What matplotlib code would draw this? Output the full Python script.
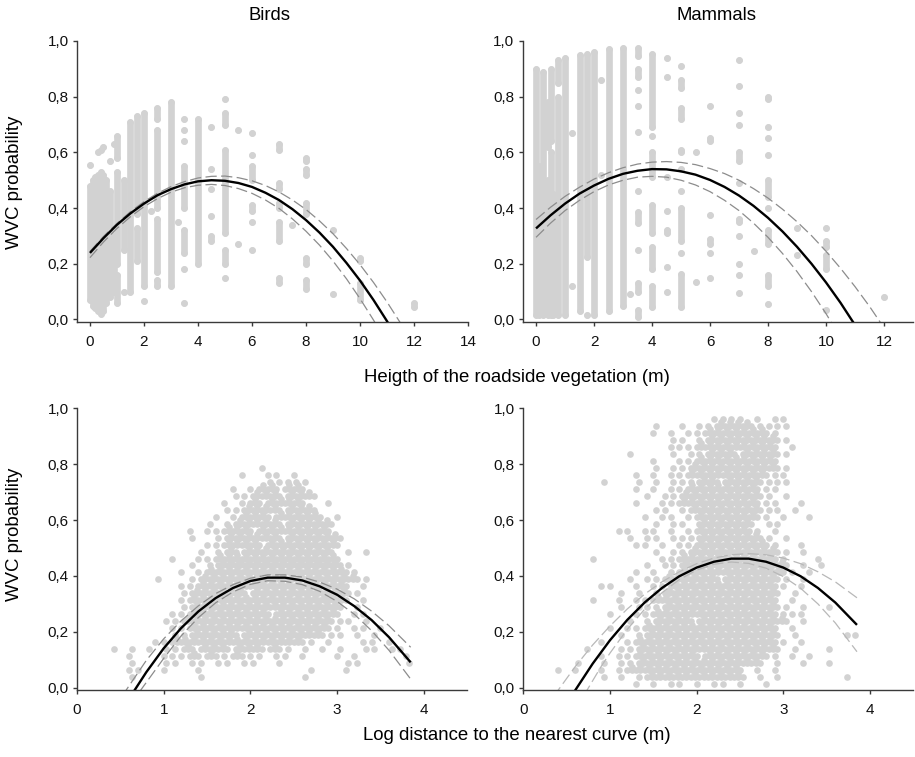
import matplotlib
matplotlib.use("Agg")
import matplotlib.pyplot as plt
from matplotlib.ticker import FuncFormatter

plt.rcParams['font.family'] = ['Liberation Sans', 'DejaVu Sans']

# ---- top row: height of roadside vegetation, columns of dots (x, runs of y)
birds_veg_x = [0, 0.1, 0.2, 0.3, 0.4, 0.5, 0.6, 0.75, 0.9, 1.0, 1.25, 1.5, 1.75, 2.0, 2.25,
               2.5, 3.0, 3.25, 3.5, 4.0, 4.5, 5.0, 5.5, 6.0, 7.0, 7.5, 8.0, 9.0, 10.0, 12.0]
birds_veg_runs = [
    [(0.07, 0.48), (0.555, 0.555)],
    [(0.05, 0.50)],
    [(0.04, 0.51)],
    [(0.03, 0.52), (0.60, 0.60)],
    [(0.02, 0.53), (0.61, 0.61)],
    [(0.03, 0.52), (0.62, 0.62)],
    [(0.06, 0.50)],
    [(0.08, 0.46), (0.57, 0.57)],
    [(0.10, 0.30), (0.63, 0.63)],
    [(0.06, 0.16), (0.20, 0.53), (0.58, 0.66)],
    [(0.10, 0.10), (0.25, 0.50)],
    [(0.10, 0.71)],
    [(0.21, 0.33), (0.38, 0.73)],
    [(0.065, 0.065), (0.12, 0.74)],
    [(0.39, 0.39)],
    [(0.12, 0.14), (0.17, 0.36), (0.40, 0.68), (0.72, 0.76)],
    [(0.12, 0.78)],
    [(0.35, 0.35)],
    [(0.06, 0.06), (0.18, 0.18), (0.24, 0.32), (0.40, 0.55), (0.64, 0.64), (0.68, 0.68), (0.72, 0.72)],
    [(0.20, 0.72)],
    [(0.28, 0.30), (0.37, 0.37), (0.47, 0.47), (0.54, 0.54), (0.69, 0.69)],
    [(0.15, 0.15), (0.20, 0.25), (0.31, 0.61), (0.70, 0.74), (0.79, 0.79)],
    [(0.27, 0.27), (0.68, 0.68)],
    [(0.25, 0.25), (0.35, 0.35), (0.39, 0.41), (0.50, 0.55), (0.59, 0.59), (0.67, 0.67)],
    [(0.13, 0.15), (0.28, 0.35), (0.40, 0.42), (0.47, 0.49), (0.61, 0.63)],
    [(0.34, 0.34)],
    [(0.11, 0.14), (0.20, 0.22), (0.38, 0.42), (0.52, 0.54), (0.57, 0.58)],
    [(0.09, 0.09), (0.32, 0.32)],
    [(0.07, 0.13), (0.21, 0.22)],
    [(0.045, 0.06)],
]

mammals_veg_x = [0, 0.1, 0.25, 0.4, 0.5, 0.6, 0.75, 1.0, 1.25, 1.5, 1.75, 2.0, 2.25, 2.5, 3.0, 3.25, 3.5,
                 4.0, 4.5, 5.0, 5.5, 6.0, 7.0, 7.5, 8.0, 9.0, 10.0, 12.0]
mammals_veg_runs = [
    [(0.015, 0.90)],
    [(0.015, 0.55)],
    [(0.015, 0.89)],
    [(0.015, 0.50), (0.62, 0.78)],
    [(0.015, 0.60), (0.64, 0.90)],
    [(0.015, 0.45)],
    [(0.015, 0.80), (0.85, 0.93)],
    [(0.015, 0.94)],
    [(0.12, 0.12), (0.67, 0.67)],
    [(0.03, 0.95)],
    [(0.015, 0.015), (0.225, 0.955)],
    [(0.015, 0.96)],
    [(0.52, 0.52), (0.86, 0.86)],
    [(0.03, 0.97)],
    [(0.05, 0.975)],
    [(0.09, 0.09)],
    [(0.01, 0.035), (0.10, 0.13), (0.25, 0.25), (0.345, 0.385), (0.46, 0.46), (0.675, 0.675),
     (0.765, 0.765), (0.825, 0.825), (0.87, 0.90), (0.945, 0.975)],
    [(0.045, 0.12), (0.18, 0.26), (0.31, 0.41), (0.51, 0.60), (0.66, 0.66), (0.69, 0.955)],
    [(0.10, 0.10), (0.19, 0.19), (0.31, 0.32), (0.39, 0.39), (0.51, 0.51), (0.87, 0.87), (0.94, 0.94)],
    [(0.045, 0.165), (0.24, 0.24), (0.28, 0.40), (0.46, 0.46), (0.54, 0.54), (0.60, 0.61),
     (0.72, 0.76), (0.83, 0.86), (0.91, 0.91)],
    [(0.135, 0.135), (0.60, 0.60)],
    [(0.15, 0.15), (0.24, 0.24), (0.27, 0.29), (0.375, 0.375), (0.64, 0.65), (0.765, 0.765)],
    [(0.095, 0.095), (0.16, 0.16), (0.20, 0.20), (0.30, 0.30), (0.35, 0.36), (0.49, 0.49),
     (0.57, 0.60), (0.70, 0.70), (0.74, 0.74), (0.84, 0.84), (0.93, 0.93)],
    [(0.245, 0.245)],
    [(0.055, 0.055), (0.12, 0.16), (0.27, 0.32), (0.40, 0.40), (0.44, 0.50), (0.59, 0.59),
     (0.65, 0.65), (0.69, 0.69), (0.79, 0.80)],
    [(0.23, 0.23), (0.33, 0.33)],
    [(0.035, 0.035), (0.18, 0.23), (0.26, 0.28), (0.33, 0.33)],
    [(0.08, 0.08)],
]

# fitted curves and confidence bands
birds_veg_fit_x = [0, 0.5, 1, 1.5, 2, 2.5, 3, 3.5, 4, 4.5, 5, 5.5, 6, 6.5, 7, 7.5, 8, 8.5, 9, 9.5, 10, 10.5, 11, 11.2]
birds_veg_fit_y = [0.239, 0.292, 0.340, 0.381, 0.416, 0.446, 0.468, 0.485, 0.496, 0.500, 0.498, 0.490,
                   0.476, 0.455, 0.429, 0.396, 0.357, 0.312, 0.261, 0.203, 0.140, 0.070, -0.006, -0.038]
birds_veg_hi_x = [0, 0.5, 1, 1.5, 2, 2.5, 3, 3.5, 4, 4.5, 5, 5.5, 6, 6.5, 7, 7.5, 8, 8.5, 9, 9.5, 10, 10.5, 11, 11.5]
birds_veg_hi_y = [0.244, 0.298, 0.345, 0.387, 0.423, 0.453, 0.477, 0.495, 0.508, 0.514, 0.515, 0.509,
                  0.498, 0.481, 0.458, 0.429, 0.395, 0.354, 0.308, 0.255, 0.197, 0.133, 0.063, -0.013]
birds_veg_lo_x = [0, 0.5, 1, 1.5, 2, 2.5, 3, 3.5, 4, 4.5, 5, 5.5, 6, 6.5, 7, 7.5, 8, 8.5, 9, 9.5, 10, 10.5, 10.7]
birds_veg_lo_y = [0.222, 0.278, 0.327, 0.369, 0.405, 0.434, 0.457, 0.473, 0.482, 0.485, 0.481, 0.470,
                  0.453, 0.429, 0.399, 0.361, 0.317, 0.267, 0.210, 0.146, 0.075, -0.002, -0.035]

mammals_veg_fit_x = [0, 0.5, 1, 1.5, 2, 2.5, 3, 3.5, 4, 4.5, 5, 5.5, 6, 6.5, 7, 7.5, 8, 8.5, 9, 9.5, 10, 10.5, 11]
mammals_veg_fit_y = [0.327, 0.374, 0.416, 0.452, 0.481, 0.505, 0.523, 0.534, 0.540, 0.539, 0.532, 0.520,
                     0.501, 0.476, 0.445, 0.408, 0.365, 0.316, 0.261, 0.200, 0.133, 0.060, -0.020]
mammals_veg_hi_x = [0, 0.5, 1, 1.5, 2, 2.5, 3, 3.5, 4, 4.5, 5, 5.5, 6, 6.5, 7, 7.5, 8, 8.5, 9, 9.5, 10, 10.5, 11, 11.5, 12]
mammals_veg_hi_y = [0.359, 0.403, 0.442, 0.475, 0.504, 0.527, 0.545, 0.558, 0.565, 0.567, 0.564, 0.556,
                    0.542, 0.524, 0.500, 0.470, 0.436, 0.396, 0.351, 0.301, 0.245, 0.184, 0.118, 0.047, -0.030]
mammals_veg_lo_x = [0, 0.5, 1, 1.5, 2, 2.5, 3, 3.5, 4, 4.5, 5, 5.5, 6, 6.5, 7, 7.5, 8, 8.5, 9, 9.5, 10, 10.5]
mammals_veg_lo_y = [0.295, 0.346, 0.391, 0.428, 0.459, 0.483, 0.500, 0.511, 0.514, 0.511, 0.500, 0.483,
                    0.459, 0.428, 0.391, 0.346, 0.295, 0.237, 0.172, 0.100, 0.021, -0.065]

# ---- bottom row: log distance to nearest curve, point density read cell by cell
# cells are 0.1 wide (starting at x=0.3) and 0.025 high; 'o' one point, '#' crowded
birds_curve_rows = [
    "..................o",
    "................o..oo.o",
    "...................ooooo",
    "...............o.o##o##o",
    "...............oo###o###o",
    "..............o.o#o####o..o",
    "..............oo####o###o",
    ".............o.o###o#####o.o",
    "............o.o#####o#####o",
    "..........o.oo###o########o",
    "..........o..o######o######o",
    "............oo####o########o",
    "...........o.o#o##########o.o.o",
    "........o..oo##############o",
    "..........o.o##############oo",
    ".........o.o################oo",
    "......o...o##################oo",
    ".........oo#################o.o",
    ".........o######o###########oo",
    ".........o##################o.o",
    ".........o#################o.o",
    "........oo#########o#######o.oo",
    ".......oo#################ooo.o",
    "........oo################oo.oo.o",
    "........oo#####o#########ooo.o.o",
    "......oo###############oo.o...oo.o",
    ".o.o.o.oo#o###o###o#oo.o.o.o..oo.oo",
    "...o...ooo#o#oo#ooo.oo.o...o.o.....o",
    "...o...oo.oo.oo.oo..o.......oo.....o",
    "...oo..o...o............o...o",
    "...o.......o...........o",
    "",
]
mammals_curve_rows = [
    "...................oooo.o.oo",
    "............o..o.oo####ooooo",
    "............o.o.oo#######oo",
    "..............oo.o########oo",
    "..............ooo#########o.o",
    ".........o....o.oo###o####oo",
    "............o..oo#########o",
    "............o.oo##########oo",
    "..........o.o.oo#########ooo",
    "......o...o.o.ooo##o####oooo",
    "..........o.o.oo########ooo",
    "...........o.oo#########oo.o",
    "..........o..oo#########ooo..o",
    "............oo.o########ooo.o",
    "...........o.oo.o#######oo.o..o",
    "............o.oo.######o.oo",
    "........oo.oo.o.o######oo.o",
    ".........o.oo.ooo#######oo.o",
    "..........oo.o.oo########oo..o",
    "............o.oo##########oo.o",
    ".....o.......oo###########oo...o",
    "...........o.oo############o.o.o",
    "..........o.o.o############oo.o",
    ".........o.oo######o######oo.o",
    "......oo..o.oo############oo.o",
    "........o.o.o#############o.o",
    ".....o..o.oo##############o.o",
    "........o.ooo#############oo.o..o",
    ".......o..oo##############oooo",
    ".........o.o####o##########o.o",
    ".......o.oo###############o.o",
    "........o.o###############o.o.....oo",
    "......o..o################oo.o",
    "....o...oo################o.o...o",
    "......o.oo#######o#######oo.o.o",
    "...o..o.oo##############o.o..o..o",
    ".o.o..o.o#############o.o.o",
    "......o.o.o###########o.o.o.......o",
    "..........o.o.oo.o.oo.o..o",
]

birds_curve_fit_x = [0.62, 0.8, 1.0, 1.2, 1.4, 1.6, 1.8, 2.0, 2.2, 2.4, 2.6, 2.8, 3.0, 3.2, 3.4, 3.6, 3.85]
birds_curve_fit_y = [-0.030, 0.056, 0.141, 0.213, 0.273, 0.321, 0.357, 0.382, 0.394, 0.394, 0.384, 0.363,
                     0.333, 0.292, 0.242, 0.181, 0.091]
birds_curve_hi_x = [0.52, 0.8, 1.0, 1.2, 1.4, 1.6, 1.8, 2.0, 2.2, 2.4, 2.6, 2.8, 3.0, 3.2, 3.4, 3.6, 3.85]
birds_curve_hi_y = [-0.030, 0.098, 0.175, 0.239, 0.293, 0.337, 0.369, 0.392, 0.404, 0.404, 0.396, 0.378,
                    0.353, 0.318, 0.274, 0.222, 0.145]
birds_curve_lo_x = [0.72, 0.9, 1.0, 1.2, 1.4, 1.6, 1.8, 2.0, 2.2, 2.4, 2.6, 2.8, 3.0, 3.2, 3.4, 3.6, 3.85]
birds_curve_lo_y = [-0.015, 0.062, 0.105, 0.185, 0.251, 0.304, 0.343, 0.370, 0.383, 0.381, 0.369, 0.345,
                    0.309, 0.263, 0.204, 0.134, 0.031]

mammals_curve_fit_x = [0.58, 0.8, 1.0, 1.2, 1.4, 1.6, 1.8, 2.0, 2.2, 2.4, 2.6, 2.8, 3.0, 3.2, 3.4, 3.6, 3.85]
mammals_curve_fit_y = [-0.018, 0.086, 0.170, 0.243, 0.305, 0.357, 0.399, 0.430, 0.451, 0.462, 0.462, 0.451,
                       0.430, 0.399, 0.357, 0.305, 0.225]
mammals_curve_hi_x = [0.35, 0.6, 0.8, 1.0, 1.2, 1.4, 1.6, 1.8, 2.0, 2.2, 2.4, 2.6, 2.8, 3.0, 3.2, 3.4, 3.6, 3.85]
mammals_curve_hi_y = [-0.031, 0.076, 0.153, 0.221, 0.282, 0.335, 0.379, 0.415, 0.444, 0.464, 0.476, 0.480,
                      0.476, 0.464, 0.444, 0.415, 0.379, 0.322]
mammals_curve_lo_x = [0.7, 0.9, 1.0, 1.2, 1.4, 1.6, 1.8, 2.0, 2.2, 2.4, 2.6, 2.8, 3.0, 3.2, 3.4, 3.6, 3.85]
mammals_curve_lo_y = [-0.027, 0.077, 0.124, 0.209, 0.281, 0.340, 0.387, 0.421, 0.442, 0.450, 0.445, 0.428,
                      0.398, 0.356, 0.300, 0.232, 0.129]

DOT = '#d2d2d2'
DOT_PT = 4.8
AXC = '#3a3a3a'


def comma(v, pos):
    return ('%.1f' % v).replace('.', ',')


def style(ax, xlim, xticks):
    ax.set_xlim(*xlim)
    ax.set_ylim(-0.008, 1.0)
    ax.set_xticks(xticks)
    ax.set_yticks([0, 0.2, 0.4, 0.6, 0.8, 1.0])
    ax.yaxis.set_major_formatter(FuncFormatter(comma))
    for s in ['top', 'right']:
        ax.spines[s].set_visible(False)
    for s in ['left', 'bottom']:
        ax.spines[s].set_color(AXC)
        ax.spines[s].set_linewidth(1.0)
    ax.tick_params(axis='both', direction='out', length=3, width=1, color=AXC,
                   labelsize=11, labelcolor='#111111')
    ax.tick_params(axis='x', pad=6.5)
    ax.tick_params(axis='y', pad=3)


def draw_columns(ax, xs, runs):
    segs, px, py = [], [], []
    for x, rr in zip(xs, runs):
        for lo, hi in rr:
            if hi > lo:
                segs.append((x, lo, hi))
            px += [x, x]
            py += [lo, hi]
    ax.vlines([s[0] for s in segs], [s[1] for s in segs], [s[2] for s in segs],
              colors=DOT, linewidth=DOT_PT, capstyle='round', zorder=1)
    ax.scatter(px, py, s=DOT_PT ** 2, color=DOT, linewidths=0, zorder=1)


def draw_cloud(ax, rows, x0=0.3, dx=0.1, dy=0.025):
    n = len(rows)
    px, py = [], []
    for i, row in enumerate(rows):
        r = n - 1 - i
        y = dy / 2 + dy * r
        shift = dx * 0.3 if r % 2 else 0.0
        for c, ch in enumerate(row):
            x = x0 + dx * c + shift
            if ch in 'o#':
                px.append(x)
                py.append(y)
            if ch == '#':
                px += [x + dx / 2, x + dx / 2]
                py += [y + dy / 2, y]
    ax.scatter(px, py, s=DOT_PT ** 2, color=DOT, linewidths=0, zorder=1)


def draw_fit(ax, fx, fy, hx, hy, lx, ly, band='#8c8c8c'):
    ax.plot(hx, hy, color=band, lw=0.9, ls=(0, (9, 3.5)), zorder=2)
    ax.plot(lx, ly, color=band, lw=0.9, ls=(0, (9, 3.5)), zorder=2)
    ax.plot(fx, fy, color='black', lw=1.7, zorder=3, solid_capstyle='butt')


fig = plt.figure(figsize=(9.15, 7.57), dpi=100)
W, H = 915.0, 757.0
ax_tl = fig.add_axes([77 / W, 1 - 321.7 / H, 391 / W, 280.7 / H])
ax_tr = fig.add_axes([522.7 / W, 1 - 321.7 / H, 390.3 / W, 280.7 / H])
ax_bl = fig.add_axes([77 / W, 1 - 690 / H, 390 / W, 281.7 / H])
ax_br = fig.add_axes([523.3 / W, 1 - 690 / H, 390 / W, 281.7 / H])

draw_columns(ax_tl, birds_veg_x, birds_veg_runs)
draw_fit(ax_tl, birds_veg_fit_x, birds_veg_fit_y, birds_veg_hi_x, birds_veg_hi_y,
         birds_veg_lo_x, birds_veg_lo_y)
style(ax_tl, (-0.48, 14), range(0, 15, 2))

draw_columns(ax_tr, mammals_veg_x, mammals_veg_runs)
draw_fit(ax_tr, mammals_veg_fit_x, mammals_veg_fit_y, mammals_veg_hi_x, mammals_veg_hi_y,
         mammals_veg_lo_x, mammals_veg_lo_y)
style(ax_tr, (-0.46, 13), range(0, 13, 2))

draw_cloud(ax_bl, birds_curve_rows)
draw_fit(ax_bl, birds_curve_fit_x, birds_curve_fit_y, birds_curve_hi_x, birds_curve_hi_y,
         birds_curve_lo_x, birds_curve_lo_y)
style(ax_bl, (0, 4.5), range(0, 5))

draw_cloud(ax_br, mammals_curve_rows)
draw_fit(ax_br, mammals_curve_fit_x, mammals_curve_fit_y, mammals_curve_hi_x, mammals_curve_hi_y,
         mammals_curve_lo_x, mammals_curve_lo_y, band='#b8b8b8')
style(ax_br, (0, 4.5), range(0, 5))

fig.text(270 / W, 1 - 16 / H, 'Birds', ha='center', va='center', fontsize=13.3)
fig.text(717 / W, 1 - 16 / H, 'Mammals', ha='center', va='center', fontsize=13.3)
fig.text(517 / W, 1 - 377 / H, 'Heigth of the roadside vegetation (m)', ha='center', va='center', fontsize=13.4)
fig.text(517 / W, 1 - 735 / H, 'Log distance to the nearest curve (m)', ha='center', va='center', fontsize=13.4)
fig.text(15 / W, 1 - 182 / H, 'WVC probability', rotation=90, ha='center', va='center', fontsize=13.4)
fig.text(15 / W, 1 - 534 / H, 'WVC probability', rotation=90, ha='center', va='center', fontsize=13.4)

fig.savefig('out.png', dpi=100)
